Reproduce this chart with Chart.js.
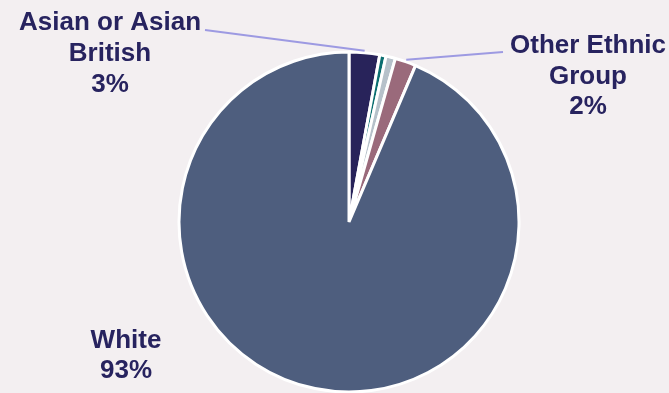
<!DOCTYPE html>
<html>
<head>
<meta charset="utf-8">
<script src="https://cdn.jsdelivr.net/npm/chart.js@4"></script>
<style>
  html, body { margin: 0; padding: 0; background: #f3eff1; }
  #wrap { width: 669px; height: 393px; position: relative; }
</style>
</head>
<body>
<div id="wrap"><canvas id="c" width="669" height="393"></canvas></div>
<script>
const categories = ['Asian or Asian British', 'Black or Black British', 'Mixed', 'Other Ethnic Group', 'White'];
const values = [2.9, 0.6, 0.9, 2.0, 93.6];
const shownLabels = ['3%', null, null, '2%', '93%'];
const labelLines = [['Asian or Asian', 'British'], null, null, ['Other Ethnic', 'Group'], ['White']];
const colors = ['#28235a', '#0b6e70', '#b6c1ca', '#9a6a7b', '#4e5e7e'];

const labelPlugin = {
  id: 'sliceLabels',
  afterDatasetsDraw(chart, args, opts) {
    const ctx = chart.ctx;
    const meta = chart.getDatasetMeta(0);
    ctx.save();
    ctx.font = 'bold 26px "Liberation Sans", Arial, sans-serif';
    ctx.fillStyle = '#27235f';
    ctx.textAlign = 'center';
    ctx.textBaseline = 'alphabetic';
    opts.items.forEach(item => {
      const arc = meta.data[item.index];
      const p = arc.getProps(['x', 'y', 'startAngle', 'endAngle', 'outerRadius'], true);
      const a = (p.startAngle + p.endAngle) / 2;
      if (item.leader) {
        const r = p.outerRadius + 2;
        const ex = p.x + Math.cos(a) * r;
        const ey = p.y + Math.sin(a) * r;
        ctx.strokeStyle = '#9d9ae2';
        ctx.lineWidth = 2;
        ctx.beginPath();
        ctx.moveTo(item.leader[0], item.leader[1]);
        ctx.lineTo(ex, ey);
        ctx.stroke();
      }
      const lines = labelLines[item.index].concat([shownLabels[item.index]]);
      lines.forEach((t, i) => {
        ctx.fillText(t, item.x, item.y + i * item.lh);
      });
    });
    ctx.restore();
  }
};

new Chart(document.getElementById('c'), {
  type: 'pie',
  data: {
    labels: categories,
    datasets: [{
      data: values,
      backgroundColor: colors,
      borderColor: '#ffffff',
      borderWidth: 3
    }]
  },
  options: {
    responsive: false,
    animation: false,
    radius: 170,
    layout: { padding: { top: 51, bottom: 0, left: 29, right: 0 } },
    plugins: {
      legend: { display: false },
      tooltip: { enabled: false },
      sliceLabels: {
        items: [
          { index: 0, x: 110, y: 30, lh: 31, leader: [205, 30] },
          { index: 3, x: 588, y: 53, lh: 30.5, leader: [503, 52] },
          { index: 4, x: 126, y: 348, lh: 29.5 }
        ]
      }
    }
  },
  plugins: [labelPlugin]
});
</script>
</body>
</html>
